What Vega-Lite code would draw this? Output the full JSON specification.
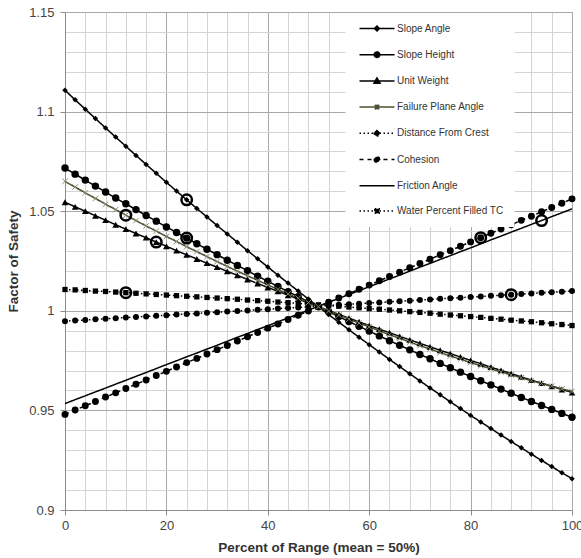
{
"$schema":"https://vega.github.io/schema/vega-lite/v6.json",
"width":507,"height":498,
"autosize":{"type":"none"},
"padding":{"left":65,"top":12,"right":9,"bottom":48},
"background":"white",
"config":{
 "view":{"stroke":"#8c8c8c","strokeWidth":1},
 "axis":{"labelFont":"Liberation Sans","titleFont":"Liberation Sans","labelFontSize":13,"labelColor":"#444","titleFontSize":13.5,"titleFontWeight":"bold","titleColor":"#333","domainColor":"#8c8c8c","tickColor":"#8c8c8c","tickSize":5,"gridWidth":1,"gridOpacity":1,"labelOverlap":false,"labelFlush":false}
},
"datasets":{
 "names":[{"key":"SA","series":"Slope Angle"},{"key":"SH","series":"Slope Height"},{"key":"UW","series":"Unit Weight"},{"key":"FP","series":"Failure Plane Angle"},{"key":"DC","series":"Distance From Crest"},{"key":"CO","series":"Cohesion"},{"key":"FA","series":"Friction Angle"},{"key":"WP","series":"Water Percent Filled TC"}],
 "circ":[{"x":12,"fs":1.048},{"x":24,"fs":1.0557},{"x":18,"fs":1.0345},{"x":24,"fs":1.0365},{"x":12,"fs":1.0091},{"x":82,"fs":1.0367},{"x":94,"fs":1.0453},{"x":88,"fs":1.0081}],
 "fs":[
{"x":0,"SA":1.1107,"SH":1.0717,"UW":1.0545,"FP":1.065,"DC":0.9948,"CO":0.948,"FA":0.9534,"WP":1.0107},
{"x":2,"SA":1.1059,"SH":1.0686,"UW":1.0522,"FP":1.0621,"DC":0.9951,"CO":0.9502,"FA":0.9554,"WP":1.0105},
{"x":4,"SA":1.1012,"SH":1.0656,"UW":1.05,"FP":1.0592,"DC":0.9954,"CO":0.9523,"FA":0.9573,"WP":1.0102},
{"x":6,"SA":1.0965,"SH":1.0626,"UW":1.0477,"FP":1.0564,"DC":0.9957,"CO":0.9545,"FA":0.9593,"WP":1.0099},
{"x":8,"SA":1.0918,"SH":1.0596,"UW":1.0455,"FP":1.0535,"DC":0.996,"CO":0.9567,"FA":0.9612,"WP":1.0097},
{"x":10,"SA":1.0872,"SH":1.0566,"UW":1.0432,"FP":1.0508,"DC":0.9963,"CO":0.9588,"FA":0.9632,"WP":1.0094},
{"x":12,"SA":1.0826,"SH":1.0537,"UW":1.041,"FP":1.048,"DC":0.9966,"CO":0.961,"FA":0.9651,"WP":1.0091},
{"x":14,"SA":1.078,"SH":1.0508,"UW":1.0388,"FP":1.0453,"DC":0.9969,"CO":0.9631,"FA":0.9671,"WP":1.0088},
{"x":16,"SA":1.0735,"SH":1.0478,"UW":1.0367,"FP":1.0426,"DC":0.9972,"CO":0.9653,"FA":0.969,"WP":1.0085},
{"x":18,"SA":1.069,"SH":1.045,"UW":1.0345,"FP":1.04,"DC":0.9975,"CO":0.9675,"FA":0.971,"WP":1.0082},
{"x":20,"SA":1.0645,"SH":1.0421,"UW":1.0324,"FP":1.0373,"DC":0.9978,"CO":0.9696,"FA":0.973,"WP":1.0079},
{"x":22,"SA":1.0601,"SH":1.0393,"UW":1.0302,"FP":1.0348,"DC":0.9981,"CO":0.9718,"FA":0.9749,"WP":1.0076},
{"x":24,"SA":1.0557,"SH":1.0365,"UW":1.0281,"FP":1.0322,"DC":0.9984,"CO":0.974,"FA":0.9769,"WP":1.0073},
{"x":26,"SA":1.0514,"SH":1.0337,"UW":1.026,"FP":1.0297,"DC":0.9987,"CO":0.9761,"FA":0.9788,"WP":1.007},
{"x":28,"SA":1.0471,"SH":1.0309,"UW":1.0239,"FP":1.0272,"DC":0.999,"CO":0.9783,"FA":0.9808,"WP":1.0067},
{"x":30,"SA":1.0428,"SH":1.0282,"UW":1.0219,"FP":1.0247,"DC":0.9993,"CO":0.9805,"FA":0.9827,"WP":1.0064},
{"x":32,"SA":1.0386,"SH":1.0254,"UW":1.0198,"FP":1.0223,"DC":0.9996,"CO":0.9826,"FA":0.9847,"WP":1.0061},
{"x":34,"SA":1.0344,"SH":1.0228,"UW":1.0178,"FP":1.0199,"DC":0.9999,"CO":0.9848,"FA":0.9867,"WP":1.0058},
{"x":36,"SA":1.0302,"SH":1.0201,"UW":1.0157,"FP":1.0176,"DC":1.0002,"CO":0.987,"FA":0.9886,"WP":1.0054},
{"x":38,"SA":1.0261,"SH":1.0174,"UW":1.0137,"FP":1.0153,"DC":1.0005,"CO":0.9891,"FA":0.9906,"WP":1.0051},
{"x":40,"SA":1.022,"SH":1.0148,"UW":1.0117,"FP":1.013,"DC":1.0008,"CO":0.9913,"FA":0.9925,"WP":1.0048},
{"x":42,"SA":1.0179,"SH":1.0122,"UW":1.0098,"FP":1.0107,"DC":1.0011,"CO":0.9934,"FA":0.9945,"WP":1.0044},
{"x":44,"SA":1.0139,"SH":1.0096,"UW":1.0078,"FP":1.0085,"DC":1.0014,"CO":0.9956,"FA":0.9964,"WP":1.0041},
{"x":46,"SA":1.0099,"SH":1.0071,"UW":1.0059,"FP":1.0063,"DC":1.0017,"CO":0.9978,"FA":0.9984,"WP":1.0037},
{"x":48,"SA":1.0059,"SH":1.0045,"UW":1.0039,"FP":1.0041,"DC":1.002,"CO":0.9999,"FA":1.0003,"WP":1.0034},
{"x":50,"SA":1.002,"SH":1.002,"UW":1.002,"FP":1.002,"DC":1.0024,"CO":1.0021,"FA":1.0023,"WP":1.003},
{"x":52,"SA":0.9981,"SH":0.9995,"UW":1.0001,"FP":0.9999,"DC":1.0027,"CO":1.0043,"FA":1.0043,"WP":1.0026},
{"x":54,"SA":0.9943,"SH":0.9971,"UW":0.9982,"FP":0.9979,"DC":1.003,"CO":1.0064,"FA":1.0062,"WP":1.0023},
{"x":56,"SA":0.9905,"SH":0.9946,"UW":0.9963,"FP":0.9958,"DC":1.0033,"CO":1.0086,"FA":1.0082,"WP":1.0019},
{"x":58,"SA":0.9867,"SH":0.9922,"UW":0.9945,"FP":0.9938,"DC":1.0036,"CO":1.0108,"FA":1.0101,"WP":1.0015},
{"x":60,"SA":0.983,"SH":0.9898,"UW":0.9926,"FP":0.9919,"DC":1.0039,"CO":1.0129,"FA":1.0121,"WP":1.0011},
{"x":62,"SA":0.9793,"SH":0.9874,"UW":0.9908,"FP":0.9899,"DC":1.0042,"CO":1.0151,"FA":1.014,"WP":1.0008},
{"x":64,"SA":0.9756,"SH":0.985,"UW":0.989,"FP":0.988,"DC":1.0045,"CO":1.0172,"FA":1.016,"WP":1.0004},
{"x":66,"SA":0.972,"SH":0.9827,"UW":0.9872,"FP":0.9862,"DC":1.0048,"CO":1.0194,"FA":1.0179,"WP":1.0},
{"x":68,"SA":0.9684,"SH":0.9804,"UW":0.9854,"FP":0.9843,"DC":1.0051,"CO":1.0216,"FA":1.0199,"WP":0.9996},
{"x":70,"SA":0.9648,"SH":0.9781,"UW":0.9837,"FP":0.9825,"DC":1.0054,"CO":1.0237,"FA":1.0219,"WP":0.9992},
{"x":72,"SA":0.9613,"SH":0.9759,"UW":0.9819,"FP":0.9808,"DC":1.0057,"CO":1.0259,"FA":1.0238,"WP":0.9988},
{"x":74,"SA":0.9578,"SH":0.9736,"UW":0.9802,"FP":0.979,"DC":1.006,"CO":1.0281,"FA":1.0258,"WP":0.9983},
{"x":76,"SA":0.9543,"SH":0.9714,"UW":0.9785,"FP":0.9773,"DC":1.0063,"CO":1.0302,"FA":1.0277,"WP":0.9979},
{"x":78,"SA":0.9509,"SH":0.9692,"UW":0.9768,"FP":0.9757,"DC":1.0066,"CO":1.0324,"FA":1.0297,"WP":0.9975},
{"x":80,"SA":0.9475,"SH":0.967,"UW":0.9751,"FP":0.974,"DC":1.0069,"CO":1.0346,"FA":1.0316,"WP":0.9971},
{"x":82,"SA":0.9442,"SH":0.9649,"UW":0.9734,"FP":0.9724,"DC":1.0072,"CO":1.0367,"FA":1.0336,"WP":0.9967},
{"x":84,"SA":0.9409,"SH":0.9628,"UW":0.9717,"FP":0.9709,"DC":1.0075,"CO":1.0389,"FA":1.0356,"WP":0.9962},
{"x":86,"SA":0.9376,"SH":0.9607,"UW":0.9701,"FP":0.9693,"DC":1.0078,"CO":1.0411,"FA":1.0375,"WP":0.9958},
{"x":88,"SA":0.9344,"SH":0.9586,"UW":0.9685,"FP":0.9678,"DC":1.0081,"CO":1.0432,"FA":1.0395,"WP":0.9953},
{"x":90,"SA":0.9312,"SH":0.9565,"UW":0.9668,"FP":0.9664,"DC":1.0084,"CO":1.0454,"FA":1.0414,"WP":0.9949},
{"x":92,"SA":0.928,"SH":0.9545,"UW":0.9652,"FP":0.9649,"DC":1.0087,"CO":1.0475,"FA":1.0434,"WP":0.9945},
{"x":94,"SA":0.9249,"SH":0.9525,"UW":0.9637,"FP":0.9635,"DC":1.009,"CO":1.0497,"FA":1.0453,"WP":0.994},
{"x":96,"SA":0.9218,"SH":0.9505,"UW":0.9621,"FP":0.9622,"DC":1.0093,"CO":1.0519,"FA":1.0473,"WP":0.9935},
{"x":98,"SA":0.9187,"SH":0.9485,"UW":0.9605,"FP":0.9608,"DC":1.0096,"CO":1.054,"FA":1.0492,"WP":0.9931},
{"x":100,"SA":0.9157,"SH":0.9466,"UW":0.959,"FP":0.9595,"DC":1.0099,"CO":1.0562,"FA":1.0512,"WP":0.9926}
 ]
},
"encoding":{
 "x":{"field":"x","type":"quantitative","title":"Percent of Range (mean = 50%)","scale":{"domain":[0,100],"nice":false},
  "axis":{"values":[0,4,8,12,16,20,24,28,32,36,40,44,48,52,56,60,64,68,72,76,80,84,88,92,96,100],
   "labelExpr":"datum.value % 20 === 0 ? datum.label : ''",
   "gridColor":{"condition":{"test":"datum.value % 20 === 0","value":"#a8a8a8"},"value":"#d4d4d4"},
   "tickOpacity":{"condition":{"test":"datum.value % 20 === 0","value":1},"value":0},
   "labelPadding":4,"titlePadding":8,"labelFlush":false,"labelOverlap":false}},
 "y":{"field":"fs","type":"quantitative","title":"Factor of Safety","scale":{"domain":[0.9,1.15],"nice":false,"zero":false},
  "axis":{"values":[0.9,0.91,0.92,0.93,0.94,0.95,0.96,0.97,0.98,0.99,1,1.01,1.02,1.03,1.04,1.05,1.06,1.07,1.08,1.09,1.1,1.11,1.12,1.13,1.14,1.15],
   "labelExpr":"abs(datum.value*20-round(datum.value*20))<0.001 ? format(datum.value,'~g') : ''",
   "gridColor":{"condition":{"test":"abs(datum.value*20-round(datum.value*20))<0.001","value":"#a8a8a8"},"value":"#d4d4d4"},
   "tickOpacity":{"condition":{"test":"abs(datum.value*20-round(datum.value*20))<0.001","value":1},"value":0},
   "labelPadding":6,"titlePadding":8,"labelFlush":false,"labelOverlap":false}}
},
"layer":[
 {"data":{"name":"fs"},
  "transform":[
   {"fold":["SA","SH","UW","FP","DC","CO","FA","WP"],"as":["key","fs"]},
   {"lookup":"key","from":{"data":{"name":"names"},"key":"key","fields":["series"]}}
  ],
  "layer":[
   {"mark":{"type":"line","strokeWidth":1.5},
    "encoding":{
     "color":{"field":"series","type":"nominal","scale":{"domain":["Slope Angle","Slope Height","Unit Weight","Failure Plane Angle","Distance From Crest","Cohesion","Friction Angle","Water Percent Filled TC"],"range":["#000000","#000000","#000000","#4f4f33","#000000","#000000","#000000","#000000"]},
      "legend":{"title":null,"orient":"none","legendX":280,"legendY":0.5,"padding":10,"fillColor":"white","strokeColor":"transparent",
       "symbolSize":100,"symbolStrokeWidth":1.5,"symbolOffset":16,"labelOffset":14,"rowPadding":14.2,
       "labelFont":"Liberation Sans","labelFontSize":10,"labelColor":"#333",
       "encode":{"symbols":{"update":{
        "shape":{"signal":"datum.value==='Slope Angle' ? 'M-3.5,0L3.5,0M0,-0.5L0.5,0L0,0.5L-0.5,0Z' : datum.value==='Slope Height' ? 'M-3.5,0L3.5,0M-0.55,0A0.55,0.55,0,1,0,0.55,0A0.55,0.55,0,1,0,-0.55,0Z' : datum.value==='Unit Weight' ? 'M-3.5,0L3.5,0M0,-0.6L0.6,0.45L-0.6,0.45Z' : datum.value==='Failure Plane Angle' ? 'M-3.5,0L3.5,0M-0.45,-0.45L0.45,0.45M-0.45,0.45L0.45,-0.45M0,-0.5L0,0.5' : datum.value==='Distance From Crest' ? 'M-3.5,0L3.5,0M-0.55,0A0.55,0.55,0,1,0,0.55,0A0.55,0.55,0,1,0,-0.55,0Z' : datum.value==='Cohesion' ? 'M-3.5,0L3.5,0M-0.55,0A0.55,0.55,0,1,0,0.55,0A0.55,0.55,0,1,0,-0.55,0Z' : datum.value==='Friction Angle' ? 'M-3.5,0L3.5,0' : 'M-3.5,0L3.5,0M-0.45,-0.45L0.45,-0.45L0.45,0.45L-0.45,0.45Z'"},
        "strokeDash":{"signal":"(datum.value==='Distance From Crest' || datum.value==='Water Percent Filled TC') ? [1.5,2.2] : datum.value==='Cohesion' ? [7,7,7,6,8,60] : [1,0]"},
        "fill":{"signal":"(datum.value==='Failure Plane Angle' || datum.value==='Friction Angle') ? 'transparent' : '#000000'"},
        "stroke":{"signal":"datum.value==='Failure Plane Angle' ? '#2f2f20' : '#000000'"},
        "strokeWidth":{"value":1.5},
        "opacity":{"value":1}
       }}}}},
     "strokeDash":{"field":"series","type":"nominal","scale":{"domain":["Slope Angle","Slope Height","Unit Weight","Failure Plane Angle","Distance From Crest","Cohesion","Friction Angle","Water Percent Filled TC"],"range":[[1,0],[1,0],[1,0],[1,0],[1.5,2.5],[4,4],[1,0],[1.5,2.5]]}}
    }},
   {"transform":[{"filter":{"field":"key","oneOf":["SA","SH","UW","DC","CO","WP"]}}],
    "mark":{"type":"point","filled":true,"color":"#000000","opacity":1},
    "encoding":{
     "shape":{"condition":[{"test":"datum.key==='SA'","value":"diamond"},{"test":"datum.key==='UW'","value":"triangle-up"},{"test":"datum.key==='WP'","value":"square"}],"value":"circle"},
     "size":{"condition":[{"test":"datum.key==='SA'","value":30},{"test":"datum.key==='SH'","value":55},{"test":"datum.key==='UW'","value":45},{"test":"datum.key==='DC'","value":36},{"test":"datum.key==='CO'","value":48}],"value":28}
    }},
   {"transform":[{"filter":{"field":"key","equal":"FP"}}],
    "mark":{"type":"point","shape":"M-1,-1L1,1M-1,1L1,-1","filled":false,"stroke":"#8c8c70","strokeWidth":1,"size":30,"opacity":1}}
  ]},
 {"data":{"name":"circ"},
  "mark":{"type":"point","shape":"circle","filled":false,"stroke":"#000000","strokeWidth":2.5,"size":110,"opacity":1}}
]
}
